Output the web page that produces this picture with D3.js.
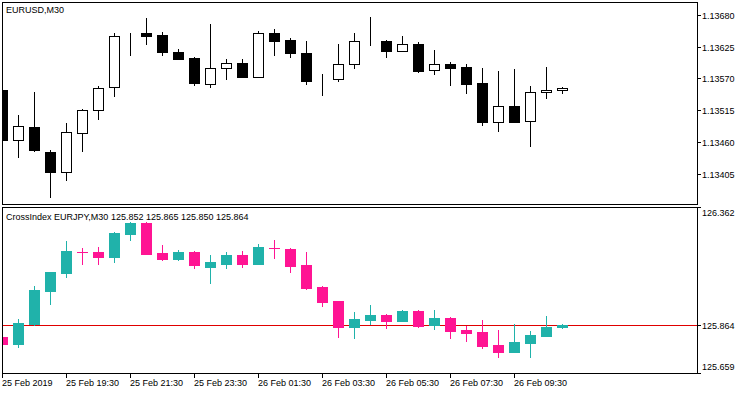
<!DOCTYPE html>
<html>
<head>
<meta charset="utf-8">
<script src="https://cdn.jsdelivr.net/npm/d3@7/dist/d3.min.js"></script>
<style>
  html, body { margin: 0; padding: 0; background: #fff; }
  svg { display: block; }
  text { font-family: "Liberation Sans", Arial, sans-serif; font-size: 9px; fill: #000; }
</style>
</head>
<body>
<div id="root"></div>
<script>
// bar 0 = 25 Feb 17:30, M30 bars
var axisLabelBars = [0, 4, 8, 12, 16, 20, 24, 28, 32];
var axisLabels = ["25 Feb 2019", "25 Feb 19:30", "25 Feb 21:30", "25 Feb 23:30", "26 Feb 01:30",
                  "26 Feb 03:30", "26 Feb 05:30", "26 Feb 07:30", "26 Feb 09:30"];

// EURUSD,M30
var eurOpen  = [1.13549, 1.13464, 1.13486, 1.13442, 1.13408, 1.13475, 1.13515, 1.13555, 1.13643, 1.13648, 1.13645, 1.13615,
                1.13605, 1.13561, 1.13587, 1.13596, 1.13573, 1.13648, 1.13636, 1.13614, 1.13567, 1.13568, 1.13594, 1.13634,
                1.13635, 1.13618, 1.13629, 1.13584, 1.13594, 1.13590, 1.13562, 1.13495, 1.13522, 1.13497, 1.13546, 1.13549];
var eurHigh  = [1.13560, 1.13507, 1.13547, 1.13446, 1.13492, 1.13517, 1.13557, 1.13649, 1.13648, 1.13674, 1.13650, 1.13621,
                1.13606, 1.13664, 1.13603, 1.13603, 1.13652, 1.13655, 1.13640, 1.13635, 1.13577, 1.13629, 1.13648, 1.13676,
                1.13636, 1.13643, 1.13632, 1.13619, 1.13598, 1.13594, 1.13588, 1.13583, 1.13586, 1.13557, 1.13590, 1.13555];
var eurLow   = [1.13455, 1.13434, 1.13445, 1.13365, 1.13394, 1.13445, 1.13499, 1.13540, 1.13611, 1.13629, 1.13611, 1.13603,
                1.13559, 1.13555, 1.13569, 1.13573, 1.13572, 1.13611, 1.13606, 1.13561, 1.13541, 1.13566, 1.13588, 1.13628,
                1.13606, 1.13617, 1.13581, 1.13578, 1.13558, 1.13545, 1.13489, 1.13478, 1.13494, 1.13453, 1.13536, 1.13545];
var eurClose = [1.13464, 1.13487, 1.13446, 1.13408, 1.13477, 1.13515, 1.13554, 1.13643, 1.13643, 1.13644, 1.13615, 1.13604,
                1.13562, 1.13587, 1.13596, 1.13573, 1.13648, 1.13635, 1.13613, 1.13566, 1.13567, 1.13595, 1.13634, 1.13634,
                1.13618, 1.13629, 1.13583, 1.13594, 1.13588, 1.13561, 1.13495, 1.13522, 1.13495, 1.13546, 1.13550, 1.13553];
var eurTicks = [1.13680, 1.13625, 1.13570, 1.13515, 1.13460, 1.13405];

// CrossIndex EURJPY,M30
var idxOpen  = [125.812, 125.781, 125.866, 126.008, 126.084, 126.171, 126.172, 126.151, 126.249, 126.295, 126.168, 126.142,
                126.172, 126.110, 126.122, 126.159, 126.122, 126.189, 126.185, 126.117, 126.023, 125.965, 125.855, 125.884,
                125.906, 125.880, 125.921, 125.863, 125.893, 125.842, 125.833, 125.778, 125.748, 125.787, 125.816, 125.852];
var idxHigh  = [125.815, 125.889, 126.028, 126.088, 126.220, 126.190, 126.193, 126.257, 126.299, 126.298, 126.203, 126.178,
                126.174, 126.159, 126.172, 126.176, 126.206, 126.223, 126.189, 126.172, 126.028, 125.966, 125.917, 125.947,
                125.910, 125.927, 125.925, 125.927, 125.897, 125.859, 125.884, 125.842, 125.867, 125.838, 125.901, 125.865];
var idxLow   = [125.779, 125.770, 125.862, 125.952, 126.066, 126.122, 126.122, 126.130, 126.224, 126.161, 126.138, 126.138,
                126.105, 126.040, 126.105, 126.110, 126.121, 126.148, 126.088, 126.016, 125.944, 125.812, 125.808, 125.867,
                125.851, 125.879, 125.855, 125.846, 125.808, 125.795, 125.765, 125.727, 125.747, 125.727, 125.815, 125.850];
var idxClose = [125.781, 125.870, 126.011, 126.087, 126.176, 126.171, 126.151, 126.253, 126.295, 126.164, 126.142, 126.172,
                126.117, 126.127, 126.159, 126.122, 126.193, 126.189, 126.114, 126.019, 125.961, 125.855, 125.889, 125.904,
                125.880, 125.921, 125.859, 125.893, 125.838, 125.829, 125.774, 125.748, 125.791, 125.821, 125.855, 125.864];
var idxMax = 126.362, idxMin = 125.659;

var W = 750, H = 394,
    frameL = 2, frameR = 697,
    top1 = 2, bot1 = 204,
    top2 = 207, bot2 = 373;

var svg = d3.select("#root").append("svg").attr("width", W).attr("height", H);

var x = d3.scaleLinear().domain([0, 35]).range([2, 562]);
var yEur = d3.scaleLinear().domain([eurTicks[5], eurTicks[0]]).range([173.7, 14.7]);
var yIdx = d3.scaleLinear().domain([idxMin, idxMax]).range([bot2, top2]);

function makeRows(o, h, l, c) {
    return o.map(function (v, i) { return { i: i, o: v, h: h[i], l: l[i], c: c[i] }; });
}

function clip(id, y0, y1) {
    svg.append("clipPath").attr("id", id).append("rect")
        .attr("x", frameL + 1).attr("y", y0 + 1)
        .attr("width", frameR - frameL - 1).attr("height", y1 - y0 - 1);
}
clip("c1", top1, bot1);
clip("c2", top2, bot2);

// top panel: black & white candles
var g1 = svg.append("g").attr("clip-path", "url(#c1)").attr("shape-rendering", "crispEdges");
var eurRows = makeRows(eurOpen, eurHigh, eurLow, eurClose);
var c1 = g1.selectAll(".candle").data(eurRows).enter().append("g").classed("candle", true);
c1.append("rect")
    .attr("x", function (d) { return Math.round(x(d.i)); })
    .attr("width", 1)
    .attr("y", function (d) { return Math.round(yEur(d.h)); })
    .attr("height", function (d) { return Math.round(yEur(d.l)) - Math.round(yEur(d.h)) + 1; })
    .attr("fill", "#000");
c1.append("rect")
    .attr("x", function (d) { return Math.round(x(d.i)) - 4.5; })
    .attr("width", 10)
    .attr("y", function (d) { return Math.round(yEur(Math.max(d.o, d.c))) + 0.5; })
    .attr("height", function (d) { return Math.max(0, Math.round(yEur(Math.min(d.o, d.c))) - Math.round(yEur(Math.max(d.o, d.c)))); })
    .attr("fill", function (d) { return d.c < d.o ? "#000" : "#fff"; })
    .attr("stroke", "#000");

// bottom panel: coloured candles
var g2 = svg.append("g").attr("clip-path", "url(#c2)").attr("shape-rendering", "crispEdges");
g2.append("rect")
    .attr("x", frameL).attr("width", frameR - frameL)
    .attr("y", Math.round(yIdx(idxClose[idxClose.length - 1]))).attr("height", 1)
    .attr("fill", "#e00000");
var idxRows = makeRows(idxOpen, idxHigh, idxLow, idxClose);
var col = function (d) { return d.c > d.o ? "#20b2aa" : "#ff1493"; };
var c2 = g2.selectAll(".candle").data(idxRows).enter().append("g").classed("candle", true);
c2.append("rect")
    .attr("x", function (d) { return Math.round(x(d.i)); })
    .attr("width", 1)
    .attr("y", function (d) { return Math.round(yIdx(d.h)); })
    .attr("height", function (d) { return Math.round(yIdx(d.l)) - Math.round(yIdx(d.h)) + 1; })
    .attr("fill", col);
c2.append("rect")
    .attr("x", function (d) { return Math.round(x(d.i)) - 5; })
    .attr("width", 11)
    .attr("y", function (d) { return Math.round(yIdx(Math.max(d.o, d.c))); })
    .attr("height", function (d) { return Math.max(1, Math.round(yIdx(Math.min(d.o, d.c))) - Math.round(yIdx(Math.max(d.o, d.c))) + 1); })
    .attr("fill", col);

// frames
var frames = svg.append("g").attr("shape-rendering", "crispEdges").attr("fill", "none").attr("stroke", "#000");
[[top1, bot1], [top2, bot2]].forEach(function (p) {
    frames.append("rect").attr("x", frameL + 0.5).attr("y", p[0] + 0.5)
        .attr("width", frameR - frameL).attr("height", p[1] - p[0]);
});

// right price axis, top
var ax = svg.append("g").attr("shape-rendering", "crispEdges");
eurTicks.forEach(function (v) {
    var yy = Math.round(yEur(v));
    ax.append("line").attr("x1", frameR).attr("x2", frameR + 4).attr("y1", yy + 0.5).attr("y2", yy + 0.5).attr("stroke", "#000");
    ax.append("text").attr("x", frameR + 5).attr("y", yy + 3.5).text(v.toFixed(5));
});

// right price axis, bottom
[[idxMax, 8.5], [idxClose[idxClose.length - 1], 3.5], [idxMin, -3]].forEach(function (p) {
    var yy = Math.round(yIdx(p[0]));
    ax.append("line").attr("x1", frameR).attr("x2", frameR + 4).attr("y1", yy + 0.5).attr("y2", yy + 0.5).attr("stroke", "#000");
    ax.append("text").attr("x", frameR + 5).attr("y", yy + p[1]).text(p[0].toFixed(3));
});

// time axis
axisLabelBars.forEach(function (b, k) {
    var xx = Math.round(x(b));
    ax.append("line").attr("x1", xx + 0.5).attr("x2", xx + 0.5).attr("y1", bot2).attr("y2", bot2 + 5).attr("stroke", "#000");
    ax.append("text").attr("x", xx).attr("y", 386).text(axisLabels[k]);
});

// panel captions
svg.append("text").attr("x", 6).attr("y", 13).text("EURUSD,M30");
var last = idxRows[idxRows.length - 1];
svg.append("text").attr("x", 6).attr("y", 219.5)
    .text("CrossIndex EURJPY,M30 " + [last.o, last.h, last.l, last.c].map(function (v) { return v.toFixed(3); }).join(" "));
</script>
</body>
</html>
